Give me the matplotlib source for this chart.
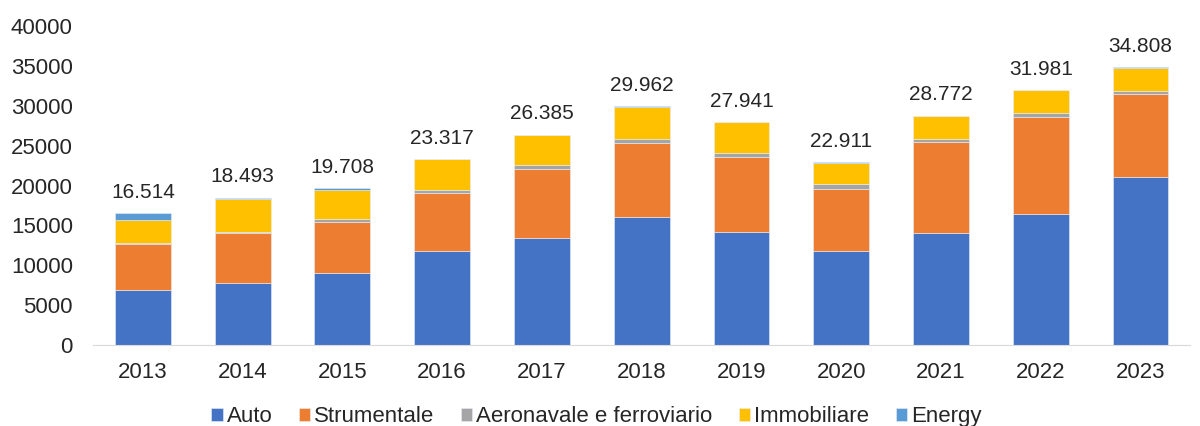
import matplotlib
matplotlib.use('Agg')
import matplotlib.pyplot as plt
import numpy as np

plt.rcParams['font.family'] = ['Liberation Sans', 'DejaVu Sans']

# dati
anni = ['2013', '2014', '2015', '2016', '2017', '2018', '2019', '2020', '2021', '2022', '2023']
auto = [6900, 7800, 9050, 11800, 13380, 16050, 14170, 11790, 14050, 16390, 21100]
strumentale = [5730, 6200, 6330, 7300, 8690, 9320, 9440, 7810, 11450, 12240, 10340]
aeronavale = [200, 170, 380, 340, 540, 430, 500, 590, 330, 420, 370]
immobiliare = [2840, 4140, 3680, 3830, 3720, 4100, 3800, 2690, 2900, 2900, 2880]
energy = [844, 183, 268, 47, 55, 62, 31, 31, 42, 31, 118]
totali = ['16.514', '18.493', '19.708', '23.317', '26.385', '29.962',
          '27.941', '22.911', '28.772', '31.981', '34.808']

serie = [
    ('Auto', auto, '#4472C4'),
    ('Strumentale', strumentale, '#ED7D31'),
    ('Aeronavale e ferroviario', aeronavale, '#A5A5A5'),
    ('Immobiliare', immobiliare, '#FFC000'),
    ('Energy', energy, '#5B9BD5'),
]

fig = plt.figure(figsize=(12, 4.26), dpi=100)
ax = fig.add_axes([0.0775, 0.19, 0.9145, 0.749])

x = np.arange(len(anni))
base = np.zeros(len(anni))
for nome, valori, colore in serie:
    ax.bar(x, valori, 0.56, bottom=base, color=colore, label=nome,
           edgecolor='#e8eef8', linewidth=0.4)
    base += np.array(valori)

# etichette dei totali
for xi, tot, lab in zip(x, base, totali):
    ax.annotate(lab, (xi, tot), xytext=(0, 8), textcoords='offset points',
                ha='center', va='bottom', fontsize=15, color='#262626')

ax.set_xlim(-0.5, len(anni) - 0.5)
ax.set_ylim(0, 40000)
ax.set_yticks(range(0, 40001, 5000))
ax.set_xticks(x)
ax.set_xticklabels(anni)
ax.tick_params(axis='both', length=0, labelsize=16, colors='#262626')
ax.tick_params(axis='y', pad=14.5)
ax.tick_params(axis='x', pad=12)

for s in ['top', 'right', 'left']:
    ax.spines[s].set_visible(False)
ax.spines['bottom'].set_color('#d9d9d9')

fig.legend(loc='center', bbox_to_anchor=(0.497, 0.022), ncol=5, frameon=False,
           fontsize=16, handlelength=0.5, handleheight=0.5,
           handletextpad=0.18, columnspacing=1.2, labelcolor='#262626')

plt.savefig('out.png', dpi=100)
